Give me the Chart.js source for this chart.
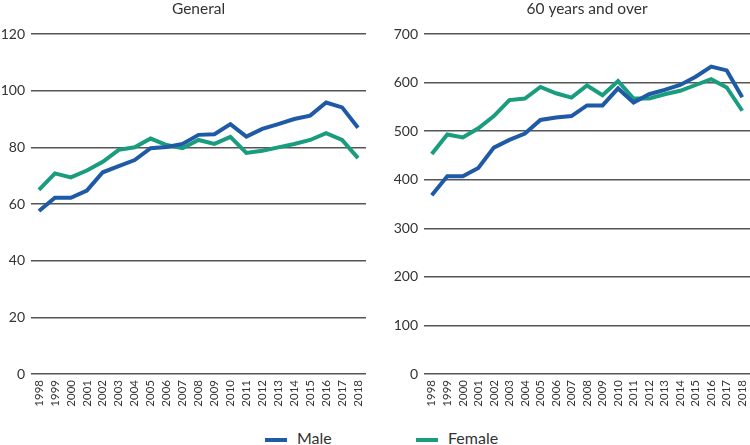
<!DOCTYPE html>
<html>
<head>
<meta charset="utf-8">
<script src="https://cdn.jsdelivr.net/npm/chart.js@4"></script>
<style>
  html, body { margin: 0; padding: 0; background: #fff; }
  body { width: 750px; height: 445px; position: relative; overflow: hidden; font-family: Lato, "Open Sans", sans-serif; }
  .box { position: absolute; top: 0; height: 420px; }
  #leftBox { left: 0; width: 366px; }
  #rightBox { left: 375px; width: 375px; }
  .legend { position: absolute; top: 428px; height: 20px; line-height: 20px; font-size: 16px; color: #333; white-space: nowrap; }
  .sw { position: absolute; top: 10px; height: 4px; width: 22px; }
</style>
</head>
<body>
<div class="box" id="leftBox"><canvas id="c1"></canvas></div>
<div class="box" id="rightBox"><canvas id="c2"></canvas></div>
<div class="legend" style="left:265px;"><span class="sw" style="background:#1f5aa6;left:0;"></span><span style="position:absolute;left:32px;top:0;">Male</span></div>
<div class="legend" style="left:416px;"><span class="sw" style="background:#1a9c7f;left:0;"></span><span style="position:absolute;left:32px;top:0;">Female</span></div>
<script>
const years = ["1998","1999","2000","2001","2002","2003","2004","2005","2006","2007","2008","2009","2010","2011","2012","2013","2014","2015","2016","2017","2018"];

const generalMale   = [57.5,62.2,62.2,64.7,71.2,73.4,75.5,79.7,80.1,81.2,84.4,84.6,88.2,83.8,86.5,88.2,90.0,91.2,95.8,94.1,86.9];
const generalFemale = [65.0,70.8,69.4,71.8,74.9,79.1,80.0,83.1,80.8,79.7,82.6,81.2,83.7,78.0,78.8,80.0,81.2,82.6,85.0,82.6,76.2];

const olderMale   = [368,407,407,424,466,482,495,523,528,531,553,553,588,559,576,585,595,612,633,625,570];
const olderFemale = [453,493,487,506,531,564,567,591,578,569,594,574,603,567,567,576,583,595,607,590,542];

const titles = ["General", "60 years and over"];
const seriesNames = ["Male", "Female"];
const colors = ["#1f5aa6", "#1a9c7f"];

function makeChart(id, title, male, female, maxV, step, yWidth) {
  return new Chart(document.getElementById(id), {
    type: 'line',
    data: {
      labels: years,
      datasets: [
        { label: seriesNames[0], data: male, borderColor: colors[0], backgroundColor: colors[0], borderWidth: 4, pointRadius: 0, tension: 0, borderJoinStyle: 'miter' },
        { label: seriesNames[1], data: female, borderColor: colors[1], backgroundColor: colors[1], borderWidth: 4, pointRadius: 0, tension: 0, borderJoinStyle: 'miter' }
      ]
    },
    options: {
      responsive: true,
      maintainAspectRatio: false,
      animation: false,
      layout: { padding: 0 },
      plugins: {
        legend: { display: false },
        tooltip: { enabled: false },
        title: {
          display: true,
          text: title,
          fullSize: false,
          color: '#333',
          font: { family: 'Lato', size: 15.5, weight: 'normal', lineHeight: 1.2 },
          padding: { top: 0, bottom: 15.4 }
        }
      },
      scales: {
        x: {
          offset: true,
          grid: { display: false, drawTicks: false },
          border: { display: false },
          ticks: { color: '#333', font: { family: 'Lato', size: 11.5 }, minRotation: 90, maxRotation: 90, autoSkip: false, padding: 6 },
          afterFit: s => { s.height = 46; s.paddingLeft = 0; s.paddingRight = 0; }
        },
        y: {
          min: 0, max: maxV,
          grid: { color: '#555', lineWidth: 1.5, drawTicks: false },
          border: { display: false },
          ticks: { stepSize: step, color: '#333', font: { family: 'Lato', size: 14 }, padding: 6 },
          afterFit: s => { s.width = yWidth; s.paddingTop = 0; s.paddingBottom = 0; }
        }
      }
    }
  });
}

makeChart('c1', titles[0], generalMale, generalFemale, 120, 20, 31);
makeChart('c2', titles[1], olderMale, olderFemale, 700, 100, 49);
</script>
</body>
</html>
